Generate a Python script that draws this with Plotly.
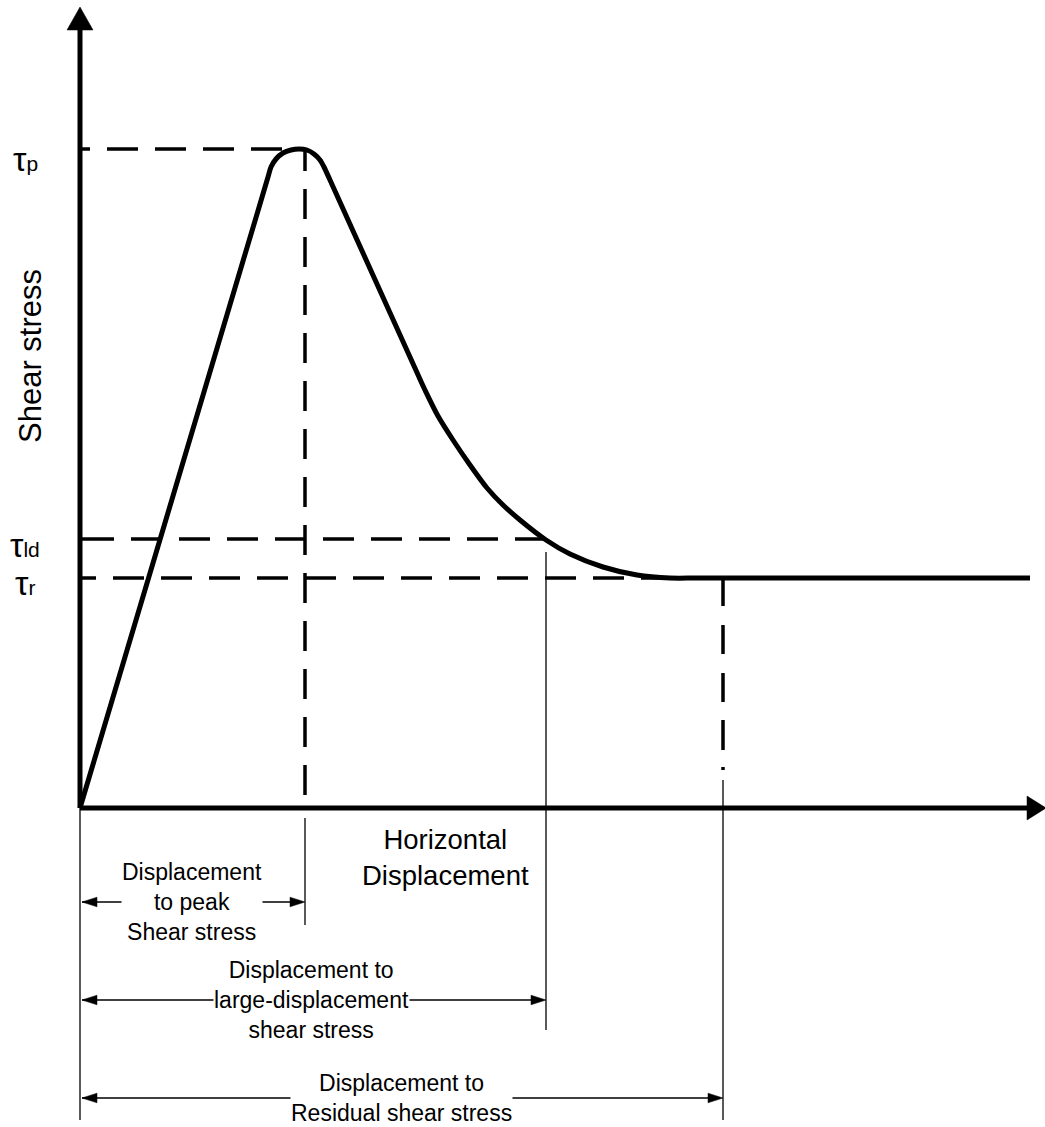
import plotly.graph_objects as go

# Shear stress vs. horizontal displacement (schematic units, origin at axis corner)
curve_disp = [0, 180, 188, 191, 196, 203, 211, 219, 227, 234, 240, 244, 250,
              339, 345, 358, 373, 390, 407, 423, 440, 466, 490, 523, 557, 590, 620, 950]
curve_stress = [0, 604, 631, 641, 649, 655, 658, 659, 658, 654, 648, 641, 628,
                431, 418, 392, 368, 343, 320, 303, 288, 268, 254, 241, 233, 230, 230, 230]

# characteristic stress levels
stress_symbols = ["p", "ld", "r"]
stress_levels = [659, 269, 230]
stress_line_end = [203, 466, 610]

# characteristic displacements
disp_names = ["Displacement<br>to peak<br>Shear stress",
              "Displacement to<br>large-displacement<br>shear stress",
              "Displacement to<br>Residual shear stress"]
disp_values = [225, 466, 643]
dim_rows = [-94, -192, -290]          # level of each dimension arrow
dim_label_x = [112, 231, 321]

X0, X1 = -80, 965
Y0, Y1 = -319, 808
BLACK = "#000000"
FONT = "Liberation Sans, Arial, sans-serif"


def dashes(first, gap, dash, n):
    parts = [f"{first}px", f"{gap}px"] + [f"{dash}px", f"{gap}px"] * n
    return ",".join(parts)


def arrow_head(tip_x, tip_y, direction, length=15, half=4.8):
    if direction == "right":
        pts = [(tip_x, tip_y), (tip_x - length, tip_y - half), (tip_x - length, tip_y + half)]
    elif direction == "left":
        pts = [(tip_x, tip_y), (tip_x + length, tip_y - half), (tip_x + length, tip_y + half)]
    else:  # up
        pts = [(tip_x, tip_y), (tip_x - half, tip_y - length), (tip_x + half, tip_y - length)]
    path = "M " + " L ".join(f"{x},{y}" for x, y in pts) + " Z"
    return dict(type="path", path=path, fillcolor=BLACK, line=dict(color=BLACK, width=0.5),
                xref="x", yref="y", layer="above")


fig = go.Figure()

shapes = []

# dashed reference lines for the stress levels
first_dash = [10, 34, 16]
for lvl, end, fd in zip(stress_levels, stress_line_end, first_dash):
    shapes.append(dict(type="line", x0=0, x1=end, y0=lvl, y1=lvl, xref="x", yref="y",
                       line=dict(color=BLACK, width=3.5, dash=dashes(fd, 17, 31, 20)), layer="below"))

# dashed drop line at peak displacement
shapes.append(dict(type="line", x0=disp_values[0], x1=disp_values[0], y0=stress_levels[0], y1=0,
                   xref="x", yref="y",
                   line=dict(color=BLACK, width=3.5, dash=dashes(22, 18, 30, 20)), layer="below"))

# dash-dot drop line at residual displacement
shapes.append(dict(type="line", x0=disp_values[2], x1=disp_values[2], y0=stress_levels[2], y1=38,
                   xref="x", yref="y",
                   line=dict(color=BLACK, width=3.5,
                             dash="28px,19px,29px,19px,29px,18px,30px,17px,3px,100px"),
                   layer="below"))

# thin extension lines
ext = [(0, 0, -312), (disp_values[0], -10, -117), (disp_values[1], 256, -222), (disp_values[2], 28, -312)]
for x, ya, yb in ext:
    shapes.append(dict(type="line", x0=x, x1=x, y0=ya, y1=yb, xref="x", yref="y",
                       line=dict(color=BLACK, width=1.3)))

# dimension arrows
for dv, row in zip(disp_values, dim_rows):
    shapes.append(dict(type="line", x0=2, x1=dv - 10, y0=row, y1=row, xref="x", yref="y",
                       line=dict(color=BLACK, width=1.3)))
    shapes.append(arrow_head(2, row, "left"))
    shapes.append(arrow_head(dv, row, "right"))

# axes with arrowheads
shapes.append(dict(type="line", x0=0, x1=0, y0=0, y1=780, xref="x", yref="y",
                   line=dict(color=BLACK, width=5)))
shapes.append(dict(type="line", x0=0, x1=949, y0=0, y1=0, xref="x", yref="y",
                   line=dict(color=BLACK, width=5)))
shapes.append(arrow_head(0, 801, "up", length=23, half=13))
shapes.append(arrow_head(966, 0, "right", length=19, half=12))

# the curve
fig.add_trace(go.Scatter(x=curve_disp, y=curve_stress, mode="lines",
                         line=dict(color=BLACK, width=5, shape="spline", smoothing=0.8),
                         hoverinfo="skip", showlegend=False))

annotations = []
label_y = [649, 263, 225]
for sym, ly in zip(stress_symbols, label_y):
    annotations.append(dict(x=-55, y=ly,
                            text=f"<span style='font-size:34px'>τ</span>{sym}",
                            showarrow=False, xanchor="center", yanchor="middle",
                            font=dict(family=FONT, size=21, color=BLACK)))

annotations.append(dict(x=-50, y=452, text="Shear stress", textangle=-90, showarrow=False,
                        xanchor="center", yanchor="middle",
                        font=dict(family=FONT, size=31, color=BLACK)))
annotations.append(dict(x=365, y=-49, text="Horizontal<br>Displacement", showarrow=False,
                        xanchor="center", yanchor="middle",
                        font=dict(family=FONT, size=27.5, color=BLACK)))

for name, row, lx in zip(disp_names, dim_rows, dim_label_x):
    annotations.append(dict(x=lx, y=row, text=name, showarrow=False, xanchor="center",
                            yanchor="middle", bgcolor="white", borderpad=0,
                            font=dict(family=FONT, size=23, color=BLACK)))

fig.update_layout(
    width=1045, height=1127,
    margin=dict(l=0, r=0, t=0, b=0),
    paper_bgcolor="white", plot_bgcolor="white",
    xaxis=dict(range=[X0, X1], visible=False, fixedrange=True),
    yaxis=dict(range=[Y0, Y1], visible=False, fixedrange=True),
    shapes=shapes, annotations=annotations,
    showlegend=False,
)

fig.write_html("out.html")
